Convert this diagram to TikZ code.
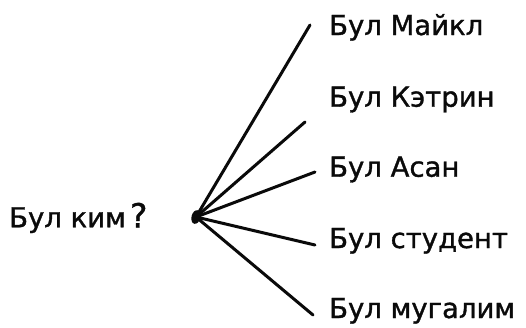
\documentclass[tikz,border=0pt]{standalone}
\usepackage{fontspec}
\setmainfont{DejaVu Sans}[FakeBold=1.2]
\usetikzlibrary{calc,shapes.geometric}
\definecolor{inkblack}{RGB}{10,10,10}

\begin{document}
\begin{tikzpicture}[x=1pt,y=-1pt,
    answer/.style={anchor=base west,text=inkblack,inner sep=0pt,
                   font=\fontsize{27.5}{30}\selectfont},
    spoke/.style={draw=inkblack,line width=3pt,line cap=round}]

  % ── CANVAS ────────────────────────────────────────────────────────────────
  \useasboundingbox (0,0) rectangle (526,327);
  \fill[white] (0,0) rectangle (526,327);

  % ── QUESTION ──────────────────────────────────────────────────────────────
  \node[answer] (question) at (9,227.3)
    {Бул ким\kern4pt{\fontsize{33}{34}\selectfont ?}};

  % hub dot
  \node[fill=inkblack,ellipse,inner sep=0pt,minimum width=9pt,minimum height=14pt,
        rotate=-15] (hub) at (196,217) {};

  % ── ANSWERS ───────────────────────────────────────────────────────────────
  \node[answer] (michael)  at (329,35)    {Бул Майкл};
  \node[answer] (katrin)   at (329,106.7) {Бул Кэтрин};
  \node[answer] (asan)     at (329,176.7) {Бул Асан};
  \node[answer] (student)  at (329,248)   {Бул студент};
  \node[answer] (teacher)  at (329,318)   {Бул мугалим};

  % spoke ends
  \coordinate (endmichael) at (310,25);
  \coordinate (endkatrin)  at (305,122);
  \coordinate (endasan)    at (315,172);
  \coordinate (endstudent) at (315,245);
  \coordinate (endteacher) at (313,315);

  % ── SPOKES ────────────────────────────────────────────────────────────────
  \foreach \e in {endmichael,endkatrin,endasan,endstudent,endteacher}
    \draw[spoke] (hub.center) -- (\e);

\end{tikzpicture}
\end{document}
